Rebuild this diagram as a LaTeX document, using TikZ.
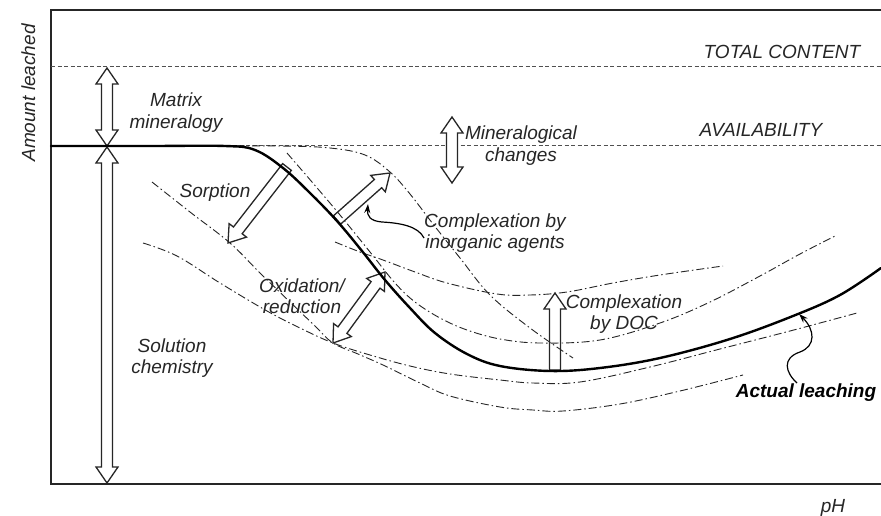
\documentclass[tikz,border=0pt]{standalone}
\usepackage{fontspec}
\setmainfont{Liberation Sans}
\usetikzlibrary{arrows.meta}
\definecolor{txt}{HTML}{262626}
\definecolor{dsh}{HTML}{505050}
\newcommand\twolines[2]{\begin{tabular}[t]{@{}c@{}}#1\\#2\end{tabular}}
\newcommand\blockarrow[5]{%
 \pgfmathsetmacro\bdx{#3-#1}%
 \pgfmathsetmacro\bdy{#4-#2}%
 \pgfmathsetmacro\blen{veclen(\bdx,\bdy)}%
 \pgfmathsetmacro\bux{\bdx/\blen}%
 \pgfmathsetmacro\buy{\bdy/\blen}%
 \def\bw{5.5}\def\bh{11}\def\bL{16}%
 \ifnum#5=1
 \draw[barrow] (#1,#2)
  -- ({#1+\bL*\bux-\bh*\buy},{#2+\bL*\buy+\bh*\bux})
  -- ({#1+\bL*\bux-\bw*\buy},{#2+\bL*\buy+\bw*\bux})
  -- ({#3-\bL*\bux-\bw*\buy},{#4-\bL*\buy+\bw*\bux})
  -- ({#3-\bL*\bux-\bh*\buy},{#4-\bL*\buy+\bh*\bux})
  -- (#3,#4)
  -- ({#3-\bL*\bux+\bh*\buy},{#4-\bL*\buy-\bh*\bux})
  -- ({#3-\bL*\bux+\bw*\buy},{#4-\bL*\buy-\bw*\bux})
  -- ({#1+\bL*\bux+\bw*\buy},{#2+\bL*\buy-\bw*\bux})
  -- ({#1+\bL*\bux+\bh*\buy},{#2+\bL*\buy-\bh*\bux})
  -- cycle;
 \else
 \draw[barrow] ({#1-\bw*\buy},{#2+\bw*\bux})
  -- ({#3-\bL*\bux-\bw*\buy},{#4-\bL*\buy+\bw*\bux})
  -- ({#3-\bL*\bux-\bh*\buy},{#4-\bL*\buy+\bh*\bux})
  -- (#3,#4)
  -- ({#3-\bL*\bux+\bh*\buy},{#4-\bL*\buy-\bh*\bux})
  -- ({#3-\bL*\bux+\bw*\buy},{#4-\bL*\buy-\bw*\bux})
  -- ({#1+\bw*\buy},{#2-\bw*\bux})
  -- cycle;
 \fi}
\begin{document}
\begin{tikzpicture}[x=1pt,y=-1pt,
  frame/.style={line width=1.6pt, draw=black!85},
  dashline/.style={line width=1pt, draw=dsh, dash pattern=on 4pt off 2.5pt},
  dashdot/.style={line width=0.9pt, draw=black!85, dash pattern=on 8pt off 3pt on 1.5pt off 3pt},
  mainline/.style={line width=2.4pt, draw=black, line cap=round},
  barrow/.style={line width=1.3pt, draw=black!85, fill=white, line join=miter},
  ptr/.style={line width=1.2pt, draw=black, -{Stealth[length=9pt,width=6pt]}},
  lab/.style={font=\fontsize{19}{21}\selectfont\itshape, text=txt, inner sep=0pt, anchor=base},
  blab/.style={font=\fontsize{19}{21}\selectfont\bfseries\itshape, text=black, inner sep=0pt, anchor=base}]
\useasboundingbox (0,0) rectangle (881,516);
\fill[white] (0,0) rectangle (881,516);
% frame
\draw[frame] (881,10) -- (51,10) -- (51,484) -- (881,484);
% reference levels
\draw[dashline] (51,67) -- (881,67);
\draw[dashline] (51,146) -- (881,146);
% block arrows
\blockarrow{107}{68}{107}{146}{1}
\blockarrow{107}{147}{107}{483}{1}
\blockarrow{452}{117}{452}{183}{1}
\blockarrow{287}{167}{228}{243}{0}
\blockarrow{337}{220}{390}{173}{0}
\blockarrow{333}{343}{385}{272}{1}
\blockarrow{555}{370}{555}{293}{0}
% dash-dot curves
\draw[dashdot] plot[smooth, tension=0.6] coordinates {(190,146) (280,146) (330,148) (365,155) (390,172) (410,194) (433,224) (460,258) (490,295) (530,328) (573,358)};
\draw[dashdot] plot[smooth, tension=0.6] coordinates {(287,153) (312,182) (340,215) (370,252) (395,283) (415,302) (440,318) (467,330) (500,339) (540,343) (600,340) (660,323) (710,302) (760,276) (800,254) (837,235)};
\draw[dashdot] plot[smooth, tension=0.6] coordinates {(335,242) (360,252) (383,260) (415,272) (447,283) (497,294) (530,295) (567,292) (613,283) (660,275) (723,266)};
\draw[dashdot] plot[smooth, tension=0.6] coordinates {(152,182) (190,212) (230,243) (260,273) (290,302) (315,326) (333,343) (358,354) (383,365) (420,383) (450,396) (500,407) (533,410) (563,411) (620,404) (680,391) (743,375)};
\draw[dashdot] plot[smooth, tension=0.6] coordinates {(143,243) (177,256) (220,283) (267,311) (300,328) (333,343) (370,355) (410,366) (450,374) (500,380) (533,383) (580,382) (650,367) (720,349) (790,331) (857,313)};
% actual leaching curve
\draw[mainline] plot[smooth, tension=0.6] coordinates {(51,146) (150,146) (225,146) (255,150) (283,168) (310,193) (337,221) (362,251) (385,280) (410,308) (435,333) (467,354) (500,366) (550,371) (600,368) (660,358) (730,339) (793,316) (840,295) (881,268)};
% labels
\node[lab, rotate=90] (amount) at (35,93) {Amount leached};
\node[lab] (total) at (782,59) {TOTAL CONTENT};
\node[lab] (avail) at (761,137) {AVAILABILITY};
\node[lab] (matrix) at (176,107) {\twolines{Matrix}{mineralogy}};
\node[lab] (sorp) at (215,197) {Sorption};
\node[lab] (miner) at (521,140) {\twolines{Mineralogical}{changes}};
\node[lab] (inorg) at (495,227) {\twolines{Complexation by}{inorganic agents}};
\node[lab] (oxid) at (302,292) {\twolines{Oxidation/}{reduction}};
\node[lab] (solut) at (172,352) {\twolines{Solution}{chemistry}};
\node[lab] (doc) at (624,308) {\twolines{Complexation}{by DOC}};
\node[blab] (actual) at (806,397) {Actual leaching};
\node[lab] (ph) at (833,512) {pH};
% pointers
\coordinate (inorgtip) at (368,204);
\coordinate (actualtip) at (799,314);
\draw[ptr] (inorg.west |- 0,238) .. controls (418,226) and (400,223) .. (382,222) .. controls (370,221) and (367,216) .. (inorgtip);
\draw[ptr] (actual.north -| 797,0) .. controls (785,372) and (782,358) .. (800,352) .. controls (816,346) and (815,330) .. (actualtip);
\end{tikzpicture}
\end{document}
